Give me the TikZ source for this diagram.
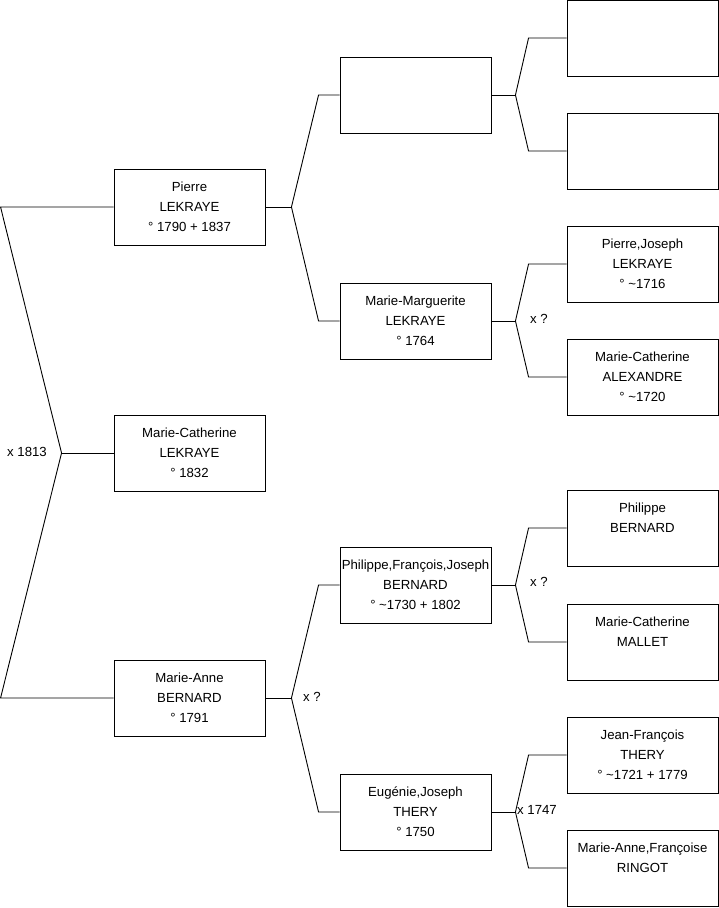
\documentclass[tikz,border=0pt]{standalone}
\usepackage{fontspec}
\setmainfont{Liberation Sans}
\begin{document}
\begin{tikzpicture}[x=1pt,y=-1pt,
  person/.style={draw=black,line width=0.9pt,minimum width=151pt,minimum height=76pt,inner sep=0pt,align=center,font=\fontsize{13.2}{20}\selectfont},
  link/.style={draw=black,line width=0.9pt,line join=miter},
  lbl/.style={font=\fontsize{13.2}{14}\selectfont,inner sep=0pt}]
\useasboundingbox (0,0) rectangle (719,908);
% column 1
\node[person] (p1) at (189.5,207) {Pierre\\LEKRAYE\\° 1790 + 1837};
\node[person] (p0) at (189.5,453) {Marie-Catherine\\LEKRAYE\\° 1832};
\node[person] (p2) at (189.5,698) {Marie-Anne\\BERNARD\\° 1791};
% column 2
\node[person] (q1) at (415.5,95) {};
\node[person] (q2) at (415.5,321) {Marie-Marguerite\\LEKRAYE\\° 1764};
\node[person] (q3) at (415.5,585) {Philippe,François,Joseph\\BERNARD\\° \textasciitilde1730 + 1802};
\node[person] (q4) at (415.5,812) {Eugénie,Joseph\\THERY\\° 1750};
% column 3
\node[person] (r1) at (642.5,38) {};
\node[person] (r2) at (642.5,151) {};
\node[person] (r3) at (642.5,264) {Pierre,Joseph\\LEKRAYE\\° \textasciitilde1716};
\node[person] (r4) at (642.5,377) {Marie-Catherine\\ALEXANDRE\\° \textasciitilde1720};
\node[person] (r5) at (642.5,528) {Philippe\\BERNARD\\\mbox{}};
\node[person] (r6) at (642.5,642) {Marie-Catherine\\MALLET\\\mbox{}};
\node[person] (r7) at (642.5,755) {Jean-François\\THERY\\° \textasciitilde1721 + 1779};
\node[person] (r8) at (642.5,868) {Marie-Anne,Françoise\\RINGOT\\\mbox{}};
% left bracket
\coordinate (j0) at ([xshift=-52pt]p0.west);
\draw[link] (p0.west) -- (j0);
\draw[link] (j0) -- ([xshift=-113pt]p1.west) -- (p1.west);
\draw[link] (j0) -- ([xshift=-113pt]p2.west) -- (p2.west);
% col1 -> col2
\coordinate (j1) at ([xshift=26pt]p1.east);
\draw[link] (p1.east) -- (j1);
\draw[link] (j1) -- ([xshift=-21pt]q1.west) -- (q1.west);
\draw[link] (j1) -- ([xshift=-21pt]q2.west) -- (q2.west);
\coordinate (j2) at ([xshift=26pt]p2.east);
\draw[link] (p2.east) -- (j2);
\draw[link] (j2) -- ([xshift=-21pt]q3.west) -- (q3.west);
\draw[link] (j2) -- ([xshift=-21pt]q4.west) -- (q4.west);
% col2 -> col3
\coordinate (k1) at ([xshift=24pt]q1.east);
\draw[link] (q1.east) -- (k1);
\draw[link] (k1) -- ([xshift=-38pt]r1.west) -- (r1.west);
\draw[link] (k1) -- ([xshift=-38pt]r2.west) -- (r2.west);
\coordinate (k2) at ([xshift=24pt]q2.east);
\draw[link] (q2.east) -- (k2);
\draw[link] (k2) -- ([xshift=-38pt]r3.west) -- (r3.west);
\draw[link] (k2) -- ([xshift=-38pt]r4.west) -- (r4.west);
\coordinate (k3) at ([xshift=24pt]q3.east);
\draw[link] (q3.east) -- (k3);
\draw[link] (k3) -- ([xshift=-38pt]r5.west) -- (r5.west);
\draw[link] (k3) -- ([xshift=-38pt]r6.west) -- (r6.west);
\coordinate (k4) at ([xshift=24pt]q4.east);
\draw[link] (q4.east) -- (k4);
\draw[link] (k4) -- ([xshift=-38pt]r7.west) -- (r7.west);
\draw[link] (k4) -- ([xshift=-38pt]r8.west) -- (r8.west);
% marriage labels
\node[lbl] (m0) at (27,452) {x 1813};
\node[lbl] (m1) at (312,697) {x ?};
\node[lbl] (m2) at (539,319) {x ?};
\node[lbl] (m3) at (539,582) {x ?};
\node[lbl] (m4) at (537,810) {x 1747};
\end{tikzpicture}
\end{document}
